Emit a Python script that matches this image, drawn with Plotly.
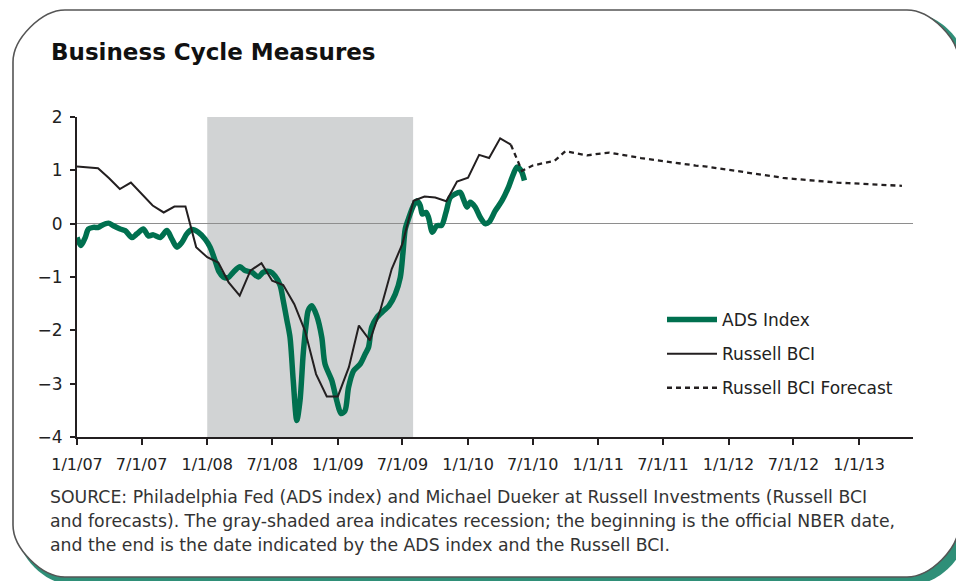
import plotly.graph_objects as go
import pandas as pd

# ---------------- data ----------------
ads_dates = [
    "2007-01-01", "2007-01-12", "2007-01-24", "2007-02-02", "2007-02-16", "2007-03-02",
    "2007-03-12", "2007-03-30", "2007-04-13", "2007-05-02", "2007-05-16", "2007-06-04",
    "2007-06-18", "2007-07-06", "2007-07-20", "2007-08-03", "2007-08-22", "2007-09-10",
    "2007-09-24", "2007-10-08", "2007-10-22", "2007-11-05", "2007-11-19", "2007-12-07",
    "2007-12-26", "2008-01-09", "2008-01-23", "2008-02-03", "2008-02-15", "2008-02-29",
    "2008-03-14", "2008-04-02", "2008-04-16", "2008-05-05", "2008-05-23", "2008-06-06",
    "2008-06-25", "2008-07-09", "2008-07-23", "2008-08-01", "2008-08-11", "2008-08-20",
    "2008-08-29", "2008-09-08", "2008-09-17", "2008-09-26", "2008-10-04", "2008-10-10",
    "2008-10-20", "2008-11-03", "2008-11-17", "2008-11-26", "2008-12-15", "2008-12-29",
    "2009-01-10", "2009-01-21", "2009-01-31", "2009-02-14", "2009-03-05", "2009-03-19",
    "2009-03-28", "2009-04-06", "2009-04-20", "2009-05-10", "2009-05-24", "2009-06-11",
    "2009-06-25", "2009-07-03", "2009-07-09", "2009-07-18", "2009-08-01", "2009-08-11",
    "2009-08-20", "2009-08-26", "2009-09-05", "2009-09-12", "2009-09-23", "2009-10-05",
    "2009-10-19", "2009-10-31", "2009-11-12", "2009-11-24", "2009-12-10", "2009-12-19",
    "2009-12-29", "2010-01-07", "2010-01-21", "2010-02-04", "2010-02-18", "2010-03-01",
    "2010-03-18", "2010-04-06", "2010-04-24", "2010-05-08", "2010-05-18", "2010-05-30",
    "2010-06-08",
]
ads_values = [
    -0.26, -0.41, -0.26, -0.10, -0.07, -0.07,
    -0.03, 0.01, -0.04, -0.10, -0.13, -0.26,
    -0.19, -0.10, -0.23, -0.21, -0.26, -0.13,
    -0.29, -0.44, -0.35, -0.19, -0.11, -0.16,
    -0.29, -0.44, -0.69, -0.90, -1.00, -1.01,
    -0.91, -0.81, -0.88, -0.91, -1.00, -0.91,
    -0.90, -0.98, -1.15, -1.44, -1.80, -2.13,
    -2.94, -3.69, -3.32, -2.44, -1.90, -1.63,
    -1.54, -1.73, -2.13, -2.63, -2.94, -3.32,
    -3.56, -3.51, -3.07, -2.76, -2.63, -2.44,
    -2.32, -1.94, -1.76, -1.63, -1.54, -1.32,
    -1.01, -0.51, -0.10, 0.09, 0.34, 0.43,
    0.34, 0.18, 0.21, 0.12, -0.16, -0.04,
    -0.03, 0.21, 0.49, 0.55, 0.59, 0.46,
    0.31, 0.40, 0.31, 0.12, 0.00, 0.03,
    0.24, 0.43, 0.68, 0.93, 1.06, 0.99,
    0.81,
]

# Russell BCI, monthly from Jan 2007 to May 2010
bci_start = "2007-01-01"
bci_values = [
    1.07, 1.06, 1.04, 0.85, 0.65, 0.77, 0.56, 0.34, 0.21, 0.32, 0.32, -0.44,
    -0.63, -0.73, -1.10, -1.35, -0.88, -0.74, -1.07, -1.15, -1.51, -2.01, -2.82, -3.24,
    -3.24, -2.69, -1.91, -2.19, -1.60, -0.85, -0.38, 0.43, 0.51, 0.49, 0.42, 0.79,
    0.86, 1.29, 1.23, 1.60, 1.48,
]

# Russell BCI forecast, monthly from May 2010 to May 2013
fc_start = "2010-05-01"
fc_values = [
    1.48, 0.99, 1.09, 1.14, 1.18, 1.36, 1.32, 1.28, 1.31, 1.33, 1.30, 1.26,
    1.23, 1.20, 1.17, 1.15, 1.12, 1.09, 1.07, 1.04, 1.01, 0.97, 0.94, 0.91,
    0.88, 0.86, 0.84, 0.82, 0.80, 0.79, 0.77, 0.76, 0.75, 0.74, 0.73, 0.72,
    0.71,
]

recession_start = "2008-01-01"
recession_end = "2009-07-31"

tick_dates = ["2007-01-01", "2007-07-01", "2008-01-01", "2008-07-01", "2009-01-01",
              "2009-07-01", "2010-01-01", "2010-07-01", "2011-01-01", "2011-07-01",
              "2012-01-01", "2012-07-01", "2013-01-01"]
tick_labels = ["1/1/07", "7/1/07", "1/1/08", "7/1/08", "1/1/09", "7/1/09", "1/1/10",
               "7/1/10", "1/1/11", "7/1/11", "1/1/12", "7/1/12", "1/1/13"]
y_ticks = [-4, -3, -2, -1, 0, 1, 2]

title_text = "Business Cycle Measures"
source_lines = [
    "SOURCE: Philadelphia Fed (ADS index) and Michael Dueker at Russell Investments (Russell BCI",
    "and forecasts). The gray-shaded area indicates recession; the beginning is the official NBER date,",
    "and the end is the date indicated by the ADS index and the Russell BCI.",
]

# ---------------- layout geometry ----------------
W, H = 964, 581
OFF = 8  # page body margin
L, R, T, B = 77, 913, 117, 437   # plot area in page pixels
PW, PH = R - L, B - T


def px(x):
    return (x - L) / PW


def py(y):
    return (B - y) / PH


def rounded_path(x0, y0, x1, y1, r):
    k = 0.45 * r

    def p(x, y):
        return f"{px(x):.5f},{py(y):.5f}"
    pts = [
        "M" + p(x0 + r, y0),
        "L" + p(x1 - r, y0),
        "C" + p(x1 - r + k, y0) + " " + p(x1, y0 + r - k) + " " + p(x1, y0 + r),
        "L" + p(x1, y1 - r),
        "C" + p(x1, y1 - r + k) + " " + p(x1 - r + k, y1) + " " + p(x1 - r, y1),
        "L" + p(x0 + r, y1),
        "C" + p(x0 + r - k, y1) + " " + p(x0, y1 - r + k) + " " + p(x0, y1 - r),
        "L" + p(x0, y0 + r),
        "C" + p(x0, y0 + r - k) + " " + p(x0 + r - k, y0) + " " + p(x0 + r, y0),
    ]
    return " ".join(pts) + " Z"


FONT = "DejaVu Sans, Verdana, sans-serif"
GREEN = "#00704f"
BLACK = "#231f20"

bci_dates = pd.date_range(bci_start, periods=len(bci_values), freq="MS")
fc_dates = pd.date_range(fc_start, periods=len(fc_values), freq="MS")

fig = go.Figure()
fig.add_trace(go.Scatter(
    x=pd.to_datetime(ads_dates), y=ads_values, mode="lines", name="ADS Index",
    line=dict(color=GREEN, width=5.5, shape="spline", smoothing=0.8),
    legendgroup="a",
))
fig.add_trace(go.Scatter(
    x=bci_dates, y=bci_values, mode="lines", name="Russell BCI",
    line=dict(color=BLACK, width=2), legendgroup="b",
))
fig.add_trace(go.Scatter(
    x=fc_dates, y=fc_values, mode="lines", name="Russell BCI Forecast",
    line=dict(color=BLACK, width=2.3, dash="5px,4px"), legendgroup="c",
))

shapes = [
    # shadow
    dict(type="path", xref="paper", yref="paper",
         path=rounded_path(18, 14, 966, 584, 50),
         fillcolor="#2f8f78", line=dict(width=0), layer="below"),
    # frame
    dict(type="path", xref="paper", yref="paper",
         path=rounded_path(13, 10, 959, 577, 52),
         fillcolor="white", line=dict(color="#555555", width=1.6), layer="below"),
    # recession shading
    dict(type="rect", xref="x", yref="y", x0=recession_start, x1=recession_end,
         y0=-4, y1=2, fillcolor="#d1d3d4", line=dict(width=0), layer="below"),
]

annotations = [
    dict(text=f"<b>{title_text}</b>", xref="paper", yref="paper", x=px(49), y=py(52),
         xanchor="left", yanchor="middle", showarrow=False,
         font=dict(family=FONT, size=23, color="#111")),
]
for i, line in enumerate(source_lines):
    annotations.append(dict(
        text=line, xref="paper", yref="paper", x=px(48), y=py(497 + 24 * i),
        xanchor="left", yanchor="middle", showarrow=False,
        font=dict(family=FONT, size=17.3, color="#333"),
    ))

fig.update_layout(
    width=W, height=H,
    margin=dict(l=L - OFF, r=W - (R - OFF), t=T - OFF, b=H - (B - OFF), pad=0),
    paper_bgcolor="white", plot_bgcolor="rgba(0,0,0,0)",
    shapes=shapes, annotations=annotations,
    showlegend=True,
    legend=dict(x=px(662), y=py(302), xanchor="left", yanchor="top",
                bgcolor="rgba(0,0,0,0)", font=dict(family=FONT, size=17, color="#222"),
                tracegroupgap=9, traceorder="grouped", itemwidth=50),
    xaxis=dict(
        type="date", range=["2007-01-01", "2013-06-01"],
        tickvals=tick_dates, ticktext=tick_labels,
        showgrid=False, zeroline=False, showline=True, linecolor=BLACK, linewidth=2,
        ticks="outside", ticklen=6, tickwidth=2, tickcolor=BLACK,
        tickfont=dict(family=FONT, size=16, color="#222"), ticklabelstandoff=6,
    ),
    yaxis=dict(
        range=[-4, 2], tickvals=y_ticks, ticktext=[str(v).replace("-", "\u2212") for v in y_ticks],
        showgrid=False, zeroline=True, zerolinecolor="#8e8e8e", zerolinewidth=1,
        showline=True, linecolor=BLACK, linewidth=2,
        ticks="outside", ticklen=5, tickwidth=2, tickcolor=BLACK,
        tickfont=dict(family=FONT, size=17, color="#222"), ticklabelstandoff=4,
    ),
)

fig.write_html("out.html")
